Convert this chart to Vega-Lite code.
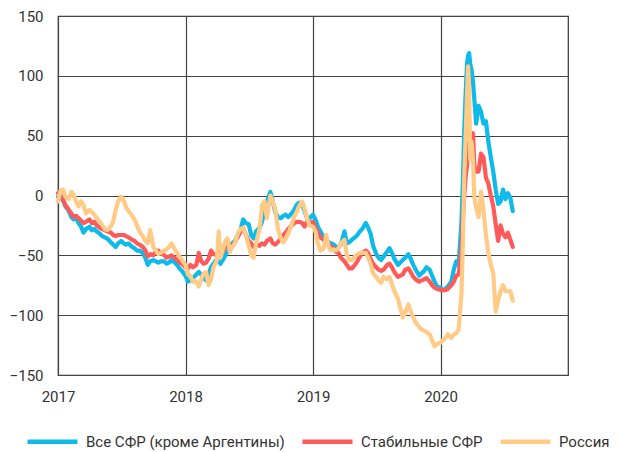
{
  "$schema": "https://vega.github.io/schema/vega-lite/v6.json",
  "autosize": {"type": "none"},
  "padding": {"left": 58, "top": 16, "right": 51, "bottom": 77},
  "width": 510,
  "height": 359,
  "background": "white",
  "config": {
    "view": {"stroke": "#333", "strokeWidth": 1.2},
    "font": "Roboto",
    "axis": {"labelFont": "Roboto", "labelFontSize": 15, "labelColor": "#333", "grid": true, "gridColor": "#444", "gridWidth": 1.2, "gridOpacity": 1, "ticks": false, "domain": false, "title": null}
  },
  "data": {"values": [
    {"d":"2017-01-01","a":-1,"b":2,"c":-5},
    {"d":"2017-01-08","a":-2,"b":0,"c":4},
    {"d":"2017-01-15","a":-4,"b":-3,"c":5},
    {"d":"2017-01-22","a":-9,"b":-8,"c":-1},
    {"d":"2017-02-01","a":-13,"b":-12,"c":-3},
    {"d":"2017-02-08","a":-18,"b":-15,"c":3},
    {"d":"2017-02-15","a":-20,"b":-18,"c":1},
    {"d":"2017-02-22","a":-19,"b":-17,"c":-5},
    {"d":"2017-03-01","a":-23,"b":-19,"c":-9},
    {"d":"2017-03-08","a":-26,"b":-21,"c":-5},
    {"d":"2017-03-15","a":-31,"b":-23,"c":-8},
    {"d":"2017-03-22","a":-28,"b":-22,"c":-15},
    {"d":"2017-04-01","a":-26,"b":-20,"c":-12},
    {"d":"2017-04-08","a":-29,"b":-23,"c":-14},
    {"d":"2017-04-15","a":-28,"b":-22,"c":-16},
    {"d":"2017-04-22","a":-30,"b":-25,"c":-19},
    {"d":"2017-05-01","a":-32,"b":-27,"c":-22},
    {"d":"2017-05-08","a":-34,"b":-28,"c":-25},
    {"d":"2017-05-15","a":-35,"b":-29,"c":-28},
    {"d":"2017-05-22","a":-36,"b":-30,"c":-29},
    {"d":"2017-06-01","a":-39,"b":-31,"c":-26},
    {"d":"2017-06-08","a":-41,"b":-33,"c":-22},
    {"d":"2017-06-15","a":-43,"b":-34,"c":-12},
    {"d":"2017-06-22","a":-40,"b":-33,"c":-5},
    {"d":"2017-07-01","a":-38,"b":-33,"c":-1},
    {"d":"2017-07-08","a":-40,"b":-33,"c":-4},
    {"d":"2017-07-15","a":-41,"b":-34,"c":-10},
    {"d":"2017-07-22","a":-40,"b":-35,"c":-13},
    {"d":"2017-08-01","a":-43,"b":-37,"c":-17},
    {"d":"2017-08-08","a":-44,"b":-38,"c":-20},
    {"d":"2017-08-15","a":-46,"b":-40,"c":-25},
    {"d":"2017-08-22","a":-46,"b":-41,"c":-30},
    {"d":"2017-09-01","a":-48,"b":-43,"c":-34},
    {"d":"2017-09-08","a":-52,"b":-46,"c":-38},
    {"d":"2017-09-15","a":-58,"b":-51,"c":-40},
    {"d":"2017-09-22","a":-55,"b":-49,"c":-29},
    {"d":"2017-10-01","a":-54,"b":-50,"c":-43},
    {"d":"2017-10-08","a":-55,"b":-47,"c":-46},
    {"d":"2017-10-15","a":-56,"b":-46,"c":-49},
    {"d":"2017-10-22","a":-55,"b":-48,"c":-48},
    {"d":"2017-11-01","a":-55,"b":-50,"c":-46},
    {"d":"2017-11-08","a":-57,"b":-52,"c":-45},
    {"d":"2017-11-15","a":-56,"b":-51,"c":-43},
    {"d":"2017-11-22","a":-54,"b":-50,"c":-40},
    {"d":"2017-12-01","a":-56,"b":-52,"c":-45},
    {"d":"2017-12-08","a":-58,"b":-54,"c":-48},
    {"d":"2017-12-15","a":-61,"b":-56,"c":-51},
    {"d":"2017-12-22","a":-63,"b":-57,"c":-54},
    {"d":"2018-01-01","a":-67,"b":-60,"c":-58},
    {"d":"2018-01-08","a":-72,"b":-61,"c":-66},
    {"d":"2018-01-15","a":-71,"b":-58,"c":-67},
    {"d":"2018-01-22","a":-69,"b":-60,"c":-72},
    {"d":"2018-02-01","a":-66,"b":-58,"c":-72},
    {"d":"2018-02-08","a":-64,"b":-48,"c":-76},
    {"d":"2018-02-15","a":-66,"b":-55,"c":-70},
    {"d":"2018-02-22","a":-69,"b":-57,"c":-65},
    {"d":"2018-03-01","a":-71,"b":-56,"c":-64},
    {"d":"2018-03-08","a":-66,"b":-53,"c":-75},
    {"d":"2018-03-15","a":-60,"b":-46,"c":-70},
    {"d":"2018-03-22","a":-57,"b":-49,"c":-60},
    {"d":"2018-04-01","a":-53,"b":-50,"c":-54},
    {"d":"2018-04-06","a":-55,"b":-51,"c":-30},
    {"d":"2018-04-11","a":-57,"b":-50,"c":-52},
    {"d":"2018-04-18","a":-54,"b":-47,"c":-45},
    {"d":"2018-04-25","a":-50,"b":-43,"c":-38},
    {"d":"2018-05-01","a":-47,"b":-42,"c":-36},
    {"d":"2018-05-08","a":-43,"b":-44,"c":-47},
    {"d":"2018-05-15","a":-40,"b":-42,"c":-43},
    {"d":"2018-05-22","a":-38,"b":-39,"c":-40},
    {"d":"2018-06-01","a":-33,"b":-34,"c":-31},
    {"d":"2018-06-08","a":-28,"b":-30,"c":-28},
    {"d":"2018-06-15","a":-20,"b":-27,"c":-27},
    {"d":"2018-06-22","a":-23,"b":-32,"c":-32},
    {"d":"2018-07-01","a":-24,"b":-38,"c":-42},
    {"d":"2018-07-08","a":-33,"b":-40,"c":-50},
    {"d":"2018-07-15","a":-36,"b":-43,"c":-52},
    {"d":"2018-07-22","a":-30,"b":-41,"c":-40},
    {"d":"2018-08-01","a":-27,"b":-42,"c":-28},
    {"d":"2018-08-08","a":-22,"b":-40,"c":-8},
    {"d":"2018-08-15","a":-13,"b":-41,"c":-5},
    {"d":"2018-08-22","a":-5,"b":-38,"c":-19},
    {"d":"2018-09-01","a":3,"b":-36,"c":0},
    {"d":"2018-09-08","a":-5,"b":-40,"c":-5},
    {"d":"2018-09-15","a":-14,"b":-41,"c":-12},
    {"d":"2018-09-22","a":-18,"b":-39,"c":-27},
    {"d":"2018-10-01","a":-19,"b":-36,"c":-36},
    {"d":"2018-10-08","a":-17,"b":-33,"c":-39},
    {"d":"2018-10-15","a":-16,"b":-31,"c":-36},
    {"d":"2018-10-22","a":-18,"b":-28,"c":-32},
    {"d":"2018-11-01","a":-15,"b":-25,"c":-24},
    {"d":"2018-11-08","a":-12,"b":-23,"c":-18},
    {"d":"2018-11-15","a":-8,"b":-22,"c":-14},
    {"d":"2018-11-22","a":-6,"b":-22,"c":-9},
    {"d":"2018-12-01","a":-8,"b":-23,"c":-5},
    {"d":"2018-12-08","a":-13,"b":-26,"c":-11},
    {"d":"2018-12-15","a":-19,"b":-22,"c":-19},
    {"d":"2018-12-22","a":-19,"b":-23,"c":-25},
    {"d":"2019-01-01","a":-16,"b":-22,"c":-26},
    {"d":"2019-01-08","a":-20,"b":-27,"c":-30},
    {"d":"2019-01-15","a":-26,"b":-31,"c":-40},
    {"d":"2019-01-22","a":-30,"b":-35,"c":-46},
    {"d":"2019-02-01","a":-35,"b":-37,"c":-44},
    {"d":"2019-02-08","a":-38,"b":-40,"c":-33},
    {"d":"2019-02-15","a":-39,"b":-41,"c":-43},
    {"d":"2019-02-22","a":-40,"b":-43,"c":-46},
    {"d":"2019-03-01","a":-41,"b":-44,"c":-45},
    {"d":"2019-03-08","a":-43,"b":-47,"c":-46},
    {"d":"2019-03-15","a":-43,"b":-48,"c":-44},
    {"d":"2019-03-22","a":-41,"b":-52,"c":-40},
    {"d":"2019-04-01","a":-30,"b":-55,"c":-37},
    {"d":"2019-04-08","a":-40,"b":-58,"c":-50},
    {"d":"2019-04-15","a":-39,"b":-61,"c":-54},
    {"d":"2019-04-22","a":-37,"b":-61,"c":-54},
    {"d":"2019-05-01","a":-35,"b":-58,"c":-51},
    {"d":"2019-05-08","a":-33,"b":-55,"c":-49},
    {"d":"2019-05-15","a":-30,"b":-51,"c":-48},
    {"d":"2019-05-22","a":-28,"b":-48,"c":-48},
    {"d":"2019-06-01","a":-23,"b":-46,"c":-48},
    {"d":"2019-06-08","a":-27,"b":-48,"c":-52},
    {"d":"2019-06-15","a":-32,"b":-53,"c":-57},
    {"d":"2019-06-22","a":-42,"b":-57,"c":-65},
    {"d":"2019-07-01","a":-49,"b":-60,"c":-68},
    {"d":"2019-07-08","a":-52,"b":-62,"c":-71},
    {"d":"2019-07-15","a":-54,"b":-63,"c":-73},
    {"d":"2019-07-22","a":-51,"b":-62,"c":-68},
    {"d":"2019-08-01","a":-47,"b":-58,"c":-70},
    {"d":"2019-08-08","a":-44,"b":-57,"c":-68},
    {"d":"2019-08-15","a":-48,"b":-60,"c":-74},
    {"d":"2019-08-22","a":-53,"b":-64,"c":-80},
    {"d":"2019-09-01","a":-58,"b":-68,"c":-86},
    {"d":"2019-09-08","a":-56,"b":-67,"c":-94},
    {"d":"2019-09-15","a":-54,"b":-66,"c":-102},
    {"d":"2019-09-22","a":-52,"b":-62,"c":-98},
    {"d":"2019-10-01","a":-49,"b":-61,"c":-91},
    {"d":"2019-10-08","a":-53,"b":-64,"c":-97},
    {"d":"2019-10-15","a":-58,"b":-68,"c":-102},
    {"d":"2019-10-22","a":-62,"b":-70,"c":-106},
    {"d":"2019-11-01","a":-67,"b":-72,"c":-110},
    {"d":"2019-11-08","a":-65,"b":-71,"c":-112},
    {"d":"2019-11-15","a":-63,"b":-70,"c":-113},
    {"d":"2019-11-22","a":-60,"b":-69,"c":-114},
    {"d":"2019-12-01","a":-62,"b":-72,"c":-116},
    {"d":"2019-12-08","a":-67,"b":-75,"c":-121},
    {"d":"2019-12-15","a":-72,"b":-77,"c":-126},
    {"d":"2019-12-22","a":-76,"b":-78,"c":-124},
    {"d":"2020-01-01","a":-77,"b":-79,"c":-123},
    {"d":"2020-01-08","a":-79,"b":-79,"c":-121},
    {"d":"2020-01-15","a":-78,"b":-79,"c":-119},
    {"d":"2020-01-22","a":-76,"b":-78,"c":-116},
    {"d":"2020-02-01","a":-72,"b":-75,"c":-119},
    {"d":"2020-02-08","a":-62,"b":-72,"c":-116},
    {"d":"2020-02-15","a":-55,"b":-67,"c":-115},
    {"d":"2020-02-22","a":-58,"b":-66,"c":-112},
    {"d":"2020-03-01","a":-22,"b":-45,"c":-82},
    {"d":"2020-03-05","a":10,"b":-20,"c":-40},
    {"d":"2020-03-09","a":55,"b":0,"c":15},
    {"d":"2020-03-13","a":85,"b":15,"c":50},
    {"d":"2020-03-17","a":110,"b":25,"c":85},
    {"d":"2020-03-20","a":117,"b":40,"c":108},
    {"d":"2020-03-23","a":119,"b":45,"c":90},
    {"d":"2020-03-26","a":110,"b":35,"c":30},
    {"d":"2020-03-30","a":105,"b":48,"c":45},
    {"d":"2020-04-03","a":95,"b":52,"c":30},
    {"d":"2020-04-07","a":80,"b":25,"c":-2},
    {"d":"2020-04-12","a":60,"b":20,"c":-10},
    {"d":"2020-04-19","a":75,"b":20,"c":-18},
    {"d":"2020-04-26","a":70,"b":35,"c":3},
    {"d":"2020-05-03","a":60,"b":32,"c":-12},
    {"d":"2020-05-10","a":62,"b":15,"c":-33},
    {"d":"2020-05-17","a":45,"b":10,"c":-48},
    {"d":"2020-05-24","a":32,"b":0,"c":-58},
    {"d":"2020-05-31","a":20,"b":-9,"c":-65},
    {"d":"2020-06-07","a":5,"b":-24,"c":-97},
    {"d":"2020-06-14","a":-7,"b":-38,"c":-88},
    {"d":"2020-06-21","a":-5,"b":-25,"c":-80},
    {"d":"2020-06-28","a":5,"b":-32,"c":-75},
    {"d":"2020-07-05","a":-3,"b":-35,"c":-80},
    {"d":"2020-07-12","a":2,"b":-31,"c":-80},
    {"d":"2020-07-19","a":-2,"b":-37,"c":-80},
    {"d":"2020-07-26","a":-13,"b":-43,"c":-88}
  ]},
  "encoding": {
    "x": {"field": "d", "type": "temporal",
      "scale": {"type": "utc", "domain": [{"year": 2017, "month": 1, "date": 1, "utc": true}, {"year": 2020, "month": 12, "date": 31, "utc": true}]},
      "axis": {"format": "%Y", "tickCount": {"interval": "year", "step": 1}, "labelPadding": 14, "labelFlush": false}},
    "color": {
      "scale": {"domain": ["Все СФР (кроме Аргентины)", "Стабильные СФР", "Россия"], "range": ["#0DBAEA", "#FF5A5A", "#FFCB87"]},
      "legend": {"orient": "none", "legendX": -33, "legendY": 398, "direction": "horizontal", "title": null, "symbolType": "stroke", "symbolSize": 2500, "symbolStrokeWidth": 4.5, "labelFontSize": 15, "labelFont": "Roboto", "labelColor": "#333", "labelOffset": 6, "labelLimit": 400, "columnPadding": 8}
    }
  },
  "layer": [
    {"mark": {"type": "line", "strokeWidth": 4.2, "strokeJoin": "round", "strokeCap": "round"},
     "encoding": {"y": {"field": "a", "type": "quantitative", "scale": {"domain": [-150, 150], "nice": false}, "axis": {"values": [-150, -100, -50, 0, 50, 100, 150], "labelPadding": 15}}, "color": {"datum": "Все СФР (кроме Аргентины)"}}},
    {"mark": {"type": "line", "strokeWidth": 4.2, "strokeJoin": "round", "strokeCap": "round"},
     "encoding": {"y": {"field": "b", "type": "quantitative"}, "color": {"datum": "Стабильные СФР"}}},
    {"mark": {"type": "line", "strokeWidth": 4.2, "strokeJoin": "round", "strokeCap": "round"},
     "encoding": {"y": {"field": "c", "type": "quantitative"}, "color": {"datum": "Россия"}}}
  ]
}
